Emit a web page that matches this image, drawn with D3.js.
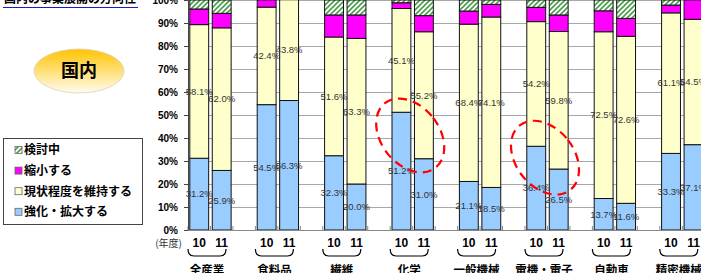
<!DOCTYPE html>
<html>
<head>
<meta charset="utf-8">
<script src="https://cdn.jsdelivr.net/npm/d3@7"></script>
<style>
body { margin: 0; background: #fff; }
svg { display: block; font-family: "Liberation Sans", Arial, "Noto Sans CJK JP", sans-serif; }
.jp { font-family: "Noto Sans CJK JP", sans-serif; }
</style>
</head>
<body>
<svg id="chart" width="701" height="273"></svg>
<script>
// data
var categories = ['全産業', '食料品', '繊維', '化学', '一般機械', '電機・電子', '自動車', '精密機械'];
var years = ['10', '11'];
var seriesNames = ['強化・拡大する', '現状程度を維持する', '縮小する', '検討中'];
var expand   = [[31.2, 25.9], [54.5, 56.3], [32.3, 20.0], [51.2, 31.0], [21.1, 18.5], [36.4, 26.5], [13.7, 11.6], [33.3, 37.1]];
var maintain = [[58.1, 62.0], [42.4, 43.8], [51.6, 63.3], [45.1, 55.2], [68.4, 74.1], [54.2, 59.8], [72.5, 72.6], [61.1, 54.5]];
var shrink   = [[6.8, 6.3], [3.1, 0], [9.6, 10.2], [2.5, 7.0], [5.7, 5.5], [6.2, 7.2], [9.1, 7.8], [3.4, 8.4]];
var review   = [[3.9, 5.8], [0, 0], [6.5, 6.5], [1.2, 6.8], [4.8, 1.9], [3.2, 6.5], [4.7, 8.0], [2.2, 0]];
var yTicks = [0, 10, 20, 30, 40, 50, 60, 70, 80, 90, 100];
var highlighted = ['化学', '電機・電子'];

// config
var width = 701, height = 273;
var plotLeft = 188, plotBottom = 230, plotTop = 0;
var groupStep = 67.4;
var colors = ['#99ccff', '#ffffcc', '#ff00ff', 'url(#hatch)'];

var svg = d3.select('#chart');

var defs = svg.append('defs');
var hatch = defs.append('pattern')
	.attr('id', 'hatch')
	.attr('patternUnits', 'userSpaceOnUse')
	.attr('width', 5).attr('height', 5);
hatch.append('rect').attr('width', 5).attr('height', 5).attr('fill', '#fff');
hatch.append('path')
	.attr('d', 'M-1,1 l2,-2 M0,5 l5,-5 M4,6 l2,-2')
	.attr('stroke', '#4a9e4a').attr('stroke-width', 1.6);
var grad = defs.append('linearGradient')
	.attr('id', 'gold').attr('x1', 0).attr('y1', 0).attr('x2', 0).attr('y2', 1);
grad.append('stop').attr('offset', '0%').attr('stop-color', '#ffc400');
grad.append('stop').attr('offset', '100%').attr('stop-color', '#fffbef');

// rows for stacking
var rows = [];
categories.forEach(function(cat, i) {
	years.forEach(function(yr, j) {
		var row = { cat: cat, year: yr };
		row[seriesNames[0]] = expand[i][j];
		row[seriesNames[1]] = maintain[i][j];
		row[seriesNames[2]] = shrink[i][j];
		row[seriesNames[3]] = review[i][j];
		rows.push(row);
	});
});
var stacked = d3.stack().keys(seriesNames)(rows);

// scales
var x0 = d3.scaleBand()
	.domain(categories)
	.range([plotLeft, plotLeft + groupStep * categories.length])
	.padding(0);
var x1 = d3.scaleBand()
	.domain(years.concat(['_']))
	.range([0, groupStep])
	.paddingInner(0.16)
	.paddingOuter(0.08);
var y = d3.scaleLinear().domain([0, 100]).range([plotBottom, plotTop]);
var slot = groupStep / 3;

// title (cut off at top)
svg.append('text')
	.attr('class', 'jp')
	.attr('x', 4).attr('y', 3)
	.attr('font-size', 12).attr('font-weight', 'bold')
	.text('国内の事業展開の方向性');
svg.append('line')
	.attr('x1', 3).attr('x2', 138).attr('y1', 7.5).attr('y2', 7.5)
	.attr('stroke', '#1a1acc').attr('stroke-width', 1.2);

// grid
svg.append('g').selectAll('line')
	.data(yTicks.slice(1))
	.enter().append('line')
	.attr('x1', plotLeft).attr('x2', width)
	.attr('y1', function(d) { return y(d) + 0.5; })
	.attr('y2', function(d) { return y(d) + 0.5; })
	.attr('stroke', '#a8a8a8').attr('stroke-width', 1);

// x ticks at slot boundaries
var slotTicks = [];
for (var k = 0; plotLeft + k * slot < width; k++) slotTicks.push(plotLeft + k * slot);
svg.append('g').selectAll('line')
	.data(slotTicks)
	.enter().append('line')
	.attr('x1', function(d) { return d; }).attr('x2', function(d) { return d; })
	.attr('y1', plotBottom).attr('y2', plotBottom - 4)
	.attr('stroke', '#888');

// bars
var layer = svg.append('g').selectAll('g')
	.data(stacked)
	.enter().append('g')
	.attr('fill', function(d, i) { return colors[i]; });
layer.selectAll('rect')
	.data(function(d) { return d.filter(function(s) { return s[1] - s[0] > 0; }); })
	.enter().append('rect')
	.attr('x', function(d) { return x0(d.data.cat) + x1(d.data.year); })
	.attr('width', x1.bandwidth())
	.attr('y', function(d) { return y(d[1]); })
	.attr('height', function(d) { return y(d[0]) - y(d[1]); })
	.attr('stroke', '#111').attr('stroke-width', 1);

// value labels (blue and yellow segments)
var labelLayer = svg.append('g')
	.attr('font-size', 9.5).attr('fill', '#333').attr('text-anchor', 'middle');
stacked.slice(0, 2).forEach(function(s) {
	labelLayer.selectAll(null)
		.data(s)
		.enter().append('text')
		.attr('x', function(d) { return x0(d.data.cat) + x1(d.data.year) + x1.bandwidth() / 2; })
		.attr('y', function(d) { return y((d[0] + d[1]) / 2); })
		.attr('dy', '0.35em')
		.text(function(d) { return (d[1] - d[0]).toFixed(1) + '%'; });
});

// y axis
var yAxis = svg.append('g')
	.attr('transform', 'translate(' + plotLeft + ',0)')
	.call(d3.axisLeft(y).tickValues(yTicks).tickSize(4).tickPadding(6)
		.tickFormat(function(d) { return d + '%'; }));
yAxis.select('.domain').attr('stroke', '#444');
yAxis.selectAll('.tick line').attr('stroke', '#444');
yAxis.selectAll('text')
	.attr('font-size', 10).attr('font-weight', 'bold').attr('fill', '#000')
	.attr('font-family', '"Liberation Sans", Arial, sans-serif');
svg.append('line')
	.attr('x1', plotLeft).attr('x2', width)
	.attr('y1', plotBottom + 0.5).attr('y2', plotBottom + 0.5)
	.attr('stroke', '#888');

// year labels
svg.append('text')
	.attr('class', 'jp')
	.attr('x', 182).attr('y', 243).attr('dy', '0.35em')
	.attr('text-anchor', 'end').attr('font-size', 10).attr('fill', '#333')
	.text('(年度)');
var xLab = svg.append('g');
categories.forEach(function(cat) {
	years.forEach(function(yr) {
		xLab.append('text')
			.attr('x', x0(cat) + x1(yr) + x1.bandwidth() / 2)
			.attr('y', 243).attr('dy', '0.35em')
			.attr('text-anchor', 'middle')
			.attr('font-size', 12).attr('font-weight', 'bold')
			.text(yr);
	});
	var bx = x0(cat), b0 = 249, b1 = 256;
	xLab.append('path')
		.attr('d', 'M' + bx + ',' + b0 + ' Q' + bx + ',' + b1 + ' ' + (bx + 6) + ',' + b1 +
			' L' + (bx + 32) + ',' + b1 + ' Q' + (bx + 38) + ',' + b1 + ' ' + (bx + 38) + ',' + b0)
		.attr('fill', 'none').attr('stroke', '#000').attr('stroke-width', 1.2);
	xLab.append('text')
		.attr('class', 'jp')
		.attr('x', bx + 19).attr('y', 270).attr('dy', '0.36em')
		.attr('text-anchor', 'middle')
		.attr('font-size', 11.5).attr('font-weight', 'bold')
		.text(cat);
});

// red dashed ellipses around highlighted pairs
highlighted.forEach(function(cat) {
	var i = categories.indexOf(cat);
	var cx = x0(cat) + 20;
	var cy = y((expand[i][0] + expand[i][1]) / 2);
	svg.append('ellipse')
		.attr('cx', 0).attr('cy', 0).attr('rx', 29).attr('ry', 41)
		.attr('transform', 'translate(' + cx + ',' + cy + ') rotate(-38)')
		.attr('fill', 'none').attr('stroke', '#ff0000').attr('stroke-width', 2.2)
		.attr('stroke-dasharray', '9,6');
});

// "国内" badge
svg.append('ellipse')
	.attr('cx', 79).attr('cy', 71).attr('rx', 45).attr('ry', 22)
	.attr('fill', 'url(#gold)').attr('stroke', '#d9d2c0').attr('stroke-width', 0.8);
svg.append('text')
	.attr('class', 'jp')
	.attr('x', 79).attr('y', 71).attr('dy', '0.36em')
	.attr('text-anchor', 'middle').attr('font-size', 18).attr('font-weight', 'bold')
	.text('国内');

// legend
var legend = svg.append('g');
legend.append('rect')
	.attr('x', 3.5).attr('y', 138.5).attr('width', 139).attr('height', 86)
	.attr('fill', '#fff').attr('stroke', '#444');
var legendOrder = [3, 2, 1, 0];
legendOrder.forEach(function(si, k) {
	var ly = 150 + k * 20.6;
	legend.append('rect')
		.attr('x', 15).attr('y', ly - 3.5).attr('width', 7).attr('height', 7)
		.attr('fill', colors[si]).attr('stroke', '#666').attr('stroke-width', 0.8);
	legend.append('text')
		.attr('class', 'jp')
		.attr('x', 24).attr('y', ly).attr('dy', '0.36em')
		.attr('font-size', 12).attr('font-weight', 'bold')
		.text(seriesNames[si]);
});
</script>
</body>
</html>
